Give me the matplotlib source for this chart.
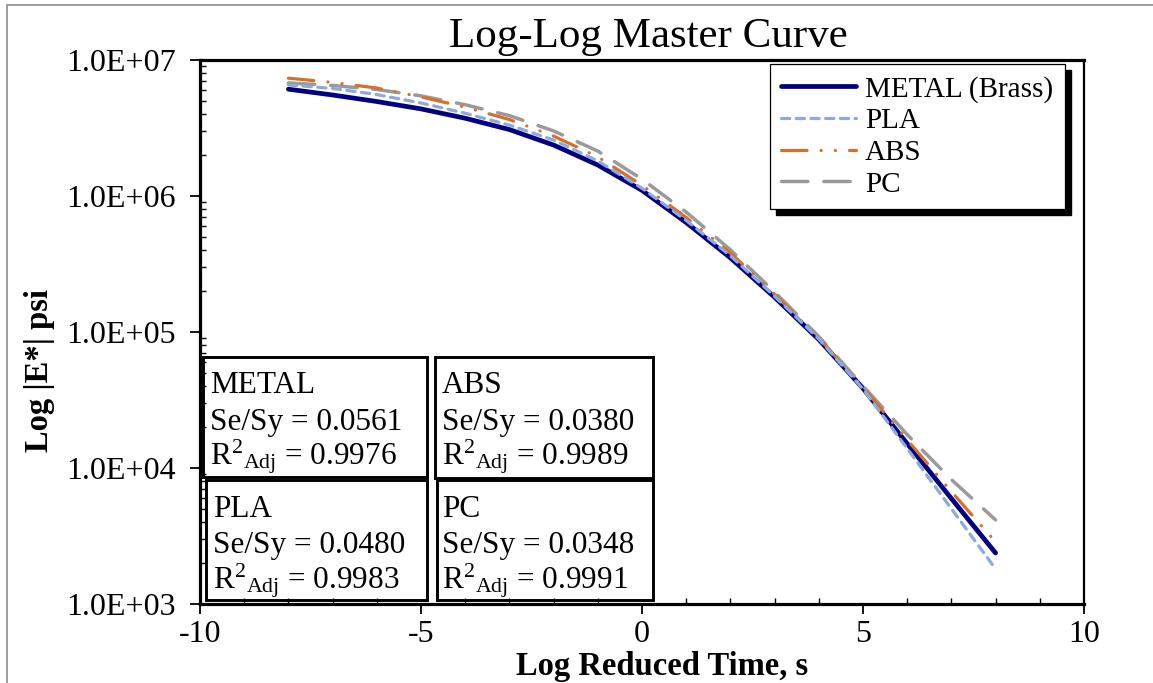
import matplotlib
matplotlib.use('Agg')
import matplotlib.pyplot as plt
import matplotlib.ticker as mt
from matplotlib.patches import Rectangle

# ---------------- data ----------------
log_time = [-8, -7, -6, -5, -4, -3, -2, -1, 0, 1, 2, 3, 4, 5, 6, 7, 8]

metal = [6.10e6, 5.53e6, 4.95e6, 4.37e6, 3.73e6, 3.08e6, 2.37e6, 1.69e6, 1.10e6,
         6.38e5, 3.51e5, 1.80e5, 8.81e4, 3.85e4, 1.51e4, 5.96e3, 2.37e3]
pla = [6.56e6, 6.18e6, 5.57e6, 4.83e6, 4.06e6, 3.32e6, 2.58e6, 1.81e6, 1.14e6,
       6.61e5, 3.63e5, 1.83e5, 8.89e4, 3.81e4, 1.39e4, 5.02e3, 1.81e3]
abs_ = [7.35e6, 6.84e6, 6.22e6, 5.35e6, 4.50e6, 3.65e6, 2.76e6, 1.94e6, 1.20e6,
        6.95e5, 3.82e5, 1.89e5, 9.04e4, 3.91e4, 1.61e4, 6.70e3, 2.86e3]
pc = [6.78e6, 6.50e6, 6.07e6, 5.45e6, 4.69e6, 3.90e6, 3.01e6, 2.14e6, 1.33e6,
      7.62e5, 4.02e5, 1.97e5, 9.27e4, 4.01e4, 1.76e4, 8.22e3, 4.15e3]

series_names = ['METAL (Brass)', 'PLA', 'ABS', 'PC']

y_ticks = [1e3, 1e4, 1e5, 1e6, 1e7]
y_tick_labels = ['1.0E+03', '1.0E+04', '1.0E+05', '1.0E+06', '1.0E+07']
x_ticks = [-10, -5, 0, 5, 10]
x_tick_labels = ['-10', '-5', '0', '5', '10']

box_names = ['METAL', 'ABS', 'PLA', 'PC']
box_sesy = ['0.0561', '0.0380', '0.0480', '0.0348']
box_r2 = ['0.9976', '0.9989', '0.9983', '0.9991']

# ---------------- style ----------------
plt.rcParams['font.family'] = ['Liberation Serif', 'DejaVu Serif']
plt.rcParams['mathtext.fontset'] = 'custom'
plt.rcParams['mathtext.rm'] = 'Liberation Serif'
plt.rcParams['mathtext.it'] = 'Liberation Serif:italic'
plt.rcParams['mathtext.bf'] = 'Liberation Serif:bold'
plt.rcParams['axes.unicode_minus'] = False

W, H = 1153, 683
fig = plt.figure(figsize=(W / 100, H / 100), dpi=100)


def fx(x):
    return x / W


def fy(y):
    return 1 - y / H


ax = fig.add_axes([fx(200), fy(604), (1084 - 200) / W, (604 - 60) / H])

navy = '#000080'
light_blue = '#8EA9DB'
orange = '#D4702C'
gray = '#9A9A9A'

ax.plot(log_time, metal, color=navy, lw=3.4, solid_capstyle='round',
        label=series_names[0], zorder=3)
ax.plot(log_time, pla, color=light_blue, lw=2.3, linestyle=(0, (2.6, 2.0)),
        dash_capstyle='round', label=series_names[1], zorder=3.2)
ax.plot(log_time, abs_, color=orange, lw=2.3,
        linestyle=(0, (8.0, 4.4, 0.05, 4.4, 0.05, 4.4)),
        dash_capstyle='round', label=series_names[2], zorder=3.1)
ax.plot(log_time, pc, color=gray, lw=2.5, linestyle=(0, (7.6, 4.6)),
        dash_capstyle='round', label=series_names[3], zorder=3.0)

ax.set_yscale('log')
ax.set_ylim(1e3, 1e7)
ax.set_xlim(-10, 10)
ax.set_yticks(y_ticks)
ax.set_yticklabels(y_tick_labels)
ax.yaxis.set_minor_locator(mt.LogLocator(base=10, subs=range(2, 10)))
ax.yaxis.set_minor_formatter(mt.NullFormatter())
ax.set_xticks(x_ticks)
ax.set_xticklabels(x_tick_labels)
ax.xaxis.set_minor_locator(mt.MultipleLocator(1))

ax.tick_params(axis='both', which='major', direction='out', length=7.2,
               width=1.3, labelsize=23, colors='black')
ax.tick_params(axis='y', which='major', pad=10.5)
ax.tick_params(axis='x', which='major', pad=4.5)
ax.tick_params(axis='both', which='minor', direction='in', length=4.5, width=1.0)

for side in ['left', 'bottom', 'top']:
    ax.spines[side].set_linewidth(2.3)
ax.spines['right'].set_linewidth(1.6)

# titles / labels
fig.text(fx(648), fy(47), 'Log-Log Master Curve', ha='center', va='baseline',
         fontsize=31)
fig.text(fx(662), fy(675), 'Log Reduced Time, s', ha='center', va='baseline',
         fontsize=23.5, fontweight='bold')
fig.text(fx(40), fy(370), 'Log |E*| psi', ha='center', va='center',
         rotation=90, fontsize=23.5, fontweight='bold')

# legend
leg = ax.legend(loc='upper right', bbox_to_anchor=(fx(1065), fy(64)),
                bbox_transform=fig.transFigure, borderaxespad=0,
                fontsize=21, handlelength=2.55, handletextpad=0.32,
                labelspacing=0.18, borderpad=0.4, fancybox=False,
                framealpha=1, edgecolor='black')
leg.get_frame().set_linewidth(0.9)
leg.set_zorder(6)

# text boxes
boxes = [(203, 357, 427, 477), (435, 357, 653, 478),
         (206, 480, 427, 600), (437, 480, 653, 600)]
text_x = [210, 442, 213, 442]
base_y = [(393, 430, 465), (393, 430, 465), (517, 553, 588), (517, 553, 588)]
for i, (x0, y0, x1, y1) in enumerate(boxes):
    r = Rectangle((fx(x0), fy(y1)), (x1 - x0) / W, (y1 - y0) / H,
                  transform=fig.transFigure, facecolor='white',
                  edgecolor='black', lw=2.1, zorder=1.5, clip_on=False)
    ax.add_patch(r)
    b = base_y[i]
    ax.text(fx(text_x[i]), fy(b[0]), box_names[i], transform=fig.transFigure,
            fontsize=22.5, va='baseline', ha='left', zorder=2)
    ax.text(fx(text_x[i]), fy(b[1]), 'Se/Sy = ' + box_sesy[i],
            transform=fig.transFigure, fontsize=22.5, va='baseline',
            ha='left', zorder=2)
    ax.text(fx(text_x[i]), fy(b[2]),
            r'R$^{2}$$_{\mathrm{Adj}}$ = ' + box_r2[i],
            transform=fig.transFigure, fontsize=22.5, va='baseline',
            ha='left', zorder=2)

# outer chart-area border
fig.patches.append(Rectangle((fx(7), fy(700)), (1200) / W, (695) / H,
                             transform=fig.transFigure, fill=False,
                             edgecolor='#8C8C8C', lw=1.2))

# legend shadow
fig.canvas.draw()
bb = leg.get_window_extent()
sh = Rectangle((bb.x0 + 6, bb.y0 - 6), bb.width, bb.height, transform=None,
               facecolor='black', edgecolor='black', zorder=5.5, clip_on=False)
ax.add_patch(sh)

fig.savefig('out.png', dpi=100)
